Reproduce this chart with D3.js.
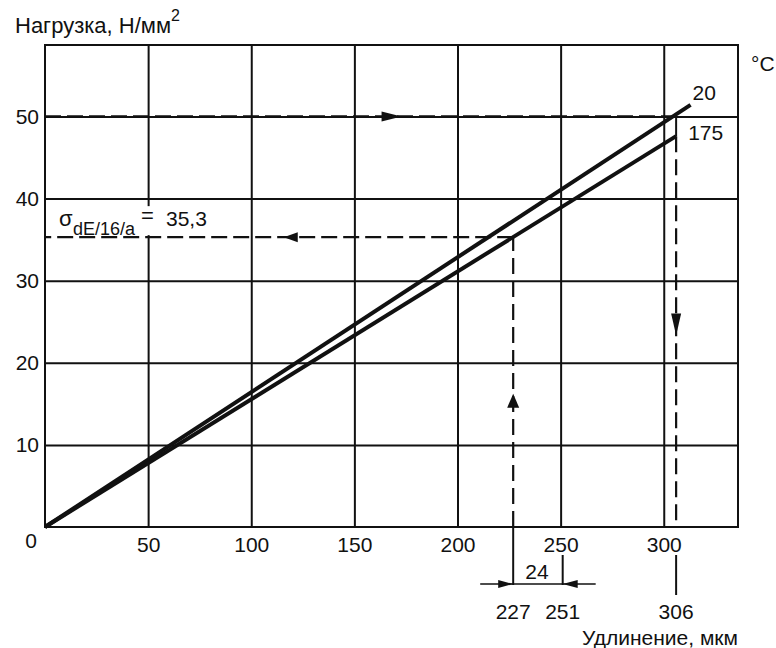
<!DOCTYPE html>
<html>
<head>
<meta charset="utf-8">
<script src="https://cdn.jsdelivr.net/npm/d3@7"></script>
<style>
  body { margin: 0; background: #fff; }
</style>
</head>
<body>
<svg id="chart" width="776" height="648"></svg>
<script>
// values
const xTicks = [50, 100, 150, 200, 250, 300]
const yTicks = [10, 20, 30, 40, 50]
const elong20 = [0, 313]
const load20 = [0, 51.4]
const elong175 = [0, 306]
const load175 = [0, 47.6]
const curveNames = ["20", "175"]
const readLoads = [50, 35.3]
const readElong = [306, 227]
const dimMarks = [227, 251, 306]
const dimText = "24"
const sigmaText = "35,3"

let svg = d3.select("#chart")
let margin = { top: 45, right: 38, bottom: 121, left: 45 }
let width = 776, height = 648
let font = "'Liberation Sans', Arial, sans-serif"

let x = d3.scaleLinear()
    .domain([0, 336])
    .range([margin.left, width - margin.right])

let y = d3.scaleLinear()
    .domain([0, 58.7])
    .range([height - margin.bottom, margin.top])

let plotBottom = y(0)

// grid via axes
let xAxisSettings = d3.axisBottom(x)
    .tickValues(xTicks)
    .tickSize(-(y(0) - y(58.7)))
    .tickPadding(10)

let yAxisSettings = d3.axisLeft(y)
    .tickValues(yTicks)
    .tickSize(-(x(336) - x(0)))
    .tickPadding(6)

let xAxis = svg.append("g")
    .attr("transform", `translate(0, ${plotBottom})`)
    .call(xAxisSettings)
let yAxis = svg.append("g")
    .attr("transform", `translate(${margin.left}, 0)`)
    .call(yAxisSettings)

svg.selectAll(".domain").remove()
svg.selectAll(".tick line").attr("stroke", "#111").attr("stroke-width", 2)
svg.selectAll(".tick text")
    .attr("fill", "#111")
    .style("font-family", font)
    .style("font-size", "21px")

// origin label
svg.append("text")
    .attr("x", x(0) - 8)
    .attr("y", plotBottom + 21)
    .attr("text-anchor", "end")
    .style("font-family", font)
    .style("font-size", "21px")
    .attr("fill", "#111")
    .text("0")

// frame
svg.append("rect")
    .attr("x", x(0))
    .attr("y", y(58.7))
    .attr("width", x(336) - x(0))
    .attr("height", y(0) - y(58.7))
    .attr("fill", "none")
    .attr("stroke", "#111")
    .attr("stroke-width", 2)

// white patch behind sigma label
svg.append("rect")
    .attr("x", x(0) + 12)
    .attr("y", y(readLoads[1]) - 31)
    .attr("width", 160)
    .attr("height", 29)
    .attr("fill", "#fff")

// reading lines
let dashed = function(x1, y1, x2, y2, dash) {
    svg.append("line")
        .attr("x1", x(x1)).attr("y1", y(y1))
        .attr("x2", x(x2)).attr("y2", y(y2))
        .attr("stroke", "#111")
        .attr("stroke-width", 2.2)
        .attr("stroke-dasharray", dash)
}
dashed(0, readLoads[0], readElong[0], readLoads[0], "16,6")
dashed(readElong[0], load175[1], readElong[0], 0, "16,7")
dashed(readElong[1], readLoads[1], 0, readLoads[1], "16,6")
dashed(readElong[1], 0, readElong[1], readLoads[1], "16,7")

svg.append("line")
    .attr("x1", x(readElong[0])).attr("y1", y(readLoads[0]))
    .attr("x2", x(readElong[0])).attr("y2", y(load175[1]))
    .attr("stroke", "#111").attr("stroke-width", 2)

// arrow heads (angle in degrees, tip at given point)
let arrow = function(px, py, angle, len, half) {
    svg.append("path")
        .attr("d", `M0,0 L${-len},${-half} L${-len},${half} Z`)
        .attr("transform", `translate(${px},${py}) rotate(${angle})`)
        .attr("fill", "#111")
}
arrow(x(readElong[0] * 0.565), y(readLoads[0]), 0, 20, 5)
arrow(x(readElong[1] * 0.51), y(readLoads[1]), 180, 14, 5)
arrow(x(readElong[1]), y(readLoads[1] * 0.46), -90, 14, 6)
arrow(x(readElong[0]), y(load175[1] * 0.49), 90, 22, 5)

// curves
let line = d3.line()
    .x(d => x(d[0]))
    .y(d => y(d[1]))

let curves = [
    { name: curveNames[0], pts: d3.zip(elong20, load20) },
    { name: curveNames[1], pts: d3.zip(elong175, load175) }
]

svg.append("g")
    .selectAll("path")
    .data(curves)
    .join("path")
    .attr("d", d => line(d.pts))
    .attr("fill", "none")
    .attr("stroke", "#111")
    .attr("stroke-width", 4)

svg.append("g")
    .selectAll("text")
    .data(curves)
    .join("text")
    .attr("x", (d, i) => x(d.pts[1][0]) + (i == 0 ? 2 : 12))
    .attr("y", (d, i) => y(d.pts[1][1]) + (i == 0 ? -5 : 4))
    .style("font-family", font)
    .style("font-size", "21px")
    .attr("fill", "#111")
    .text(d => d.name)

svg.append("text")
    .attr("x", 751)
    .attr("y", 71)
    .style("font-family", font)
    .style("font-size", "21px")
    .attr("fill", "#111")
    .text("°C")

// sigma label
let sy = y(readLoads[1])
svg.append("text")
    .attr("x", x(0) + 14)
    .attr("y", sy - 11)
    .style("font-family", font)
    .style("font-size", "22px")
    .attr("fill", "#111")
    .text("σ")
svg.append("text")
    .attr("x", x(0) + 28)
    .attr("y", sy - 2)
    .style("font-family", font)
    .style("font-size", "18px")
    .attr("fill", "#111")
    .text("dE/16/a")
svg.append("text")
    .attr("x", x(0) + 96)
    .attr("y", sy - 14)
    .style("font-family", font)
    .style("font-size", "22px")
    .attr("fill", "#111")
    .text("=")
svg.append("text")
    .attr("x", x(0) + 121)
    .attr("y", sy - 11)
    .style("font-family", font)
    .style("font-size", "21px")
    .attr("fill", "#111")
    .text(sigmaText)

// below-axis dimension marks
let dimY = plotBottom + 57
let stems = [
    { v: dimMarks[0], y1: plotBottom, y2: dimY + 1 },
    { v: dimMarks[1], y1: plotBottom + 28, y2: dimY + 1 },
    { v: dimMarks[2], y1: plotBottom + 28, y2: dimY + 11 }
]
svg.append("g")
    .selectAll("line")
    .data(stems)
    .join("line")
    .attr("x1", d => x(d.v)).attr("x2", d => x(d.v))
    .attr("y1", d => d.y1).attr("y2", d => d.y2)
    .attr("stroke", "#111").attr("stroke-width", 2)

svg.append("line")
    .attr("x1", x(dimMarks[0]) - 33)
    .attr("x2", x(dimMarks[1]) + 33)
    .attr("y1", dimY).attr("y2", dimY)
    .attr("stroke", "#111").attr("stroke-width", 1.5)
arrow(x(dimMarks[0]), dimY, 0, 15, 4)
arrow(x(dimMarks[1]), dimY, 180, 15, 4)

svg.append("text")
    .attr("x", (x(dimMarks[0]) + x(dimMarks[1])) / 2 - 1)
    .attr("y", dimY - 5)
    .attr("text-anchor", "middle")
    .style("font-family", font)
    .style("font-size", "21px")
    .attr("fill", "#111")
    .text(dimText)

svg.append("g")
    .selectAll("text")
    .data(dimMarks)
    .join("text")
    .attr("x", d => x(d))
    .attr("y", dimY + 35)
    .attr("text-anchor", "middle")
    .style("font-family", font)
    .style("font-size", "21px")
    .attr("fill", "#111")
    .text(d => d)

// axis titles
svg.append("text")
    .attr("x", 15)
    .attr("y", 33)
    .style("font-family", font)
    .style("font-size", "22px")
    .attr("fill", "#111")
    .text("Нагрузка, Н/мм")
    .append("tspan")
    .attr("dy", -12)
    .style("font-size", "16px")
    .text("2")

svg.append("text")
    .attr("x", x(336))
    .attr("y", 645)
    .attr("text-anchor", "end")
    .style("font-family", font)
    .style("font-size", "21px")
    .attr("fill", "#111")
    .text("Удлинение, мкм")
</script>
</body>
</html>
